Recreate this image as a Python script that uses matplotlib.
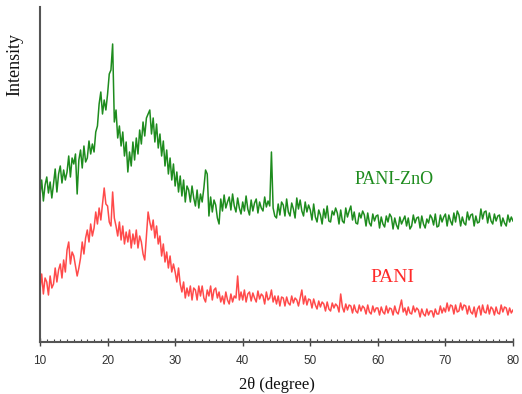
import numpy as np
import matplotlib
matplotlib.use("Agg")
import matplotlib.pyplot as plt
from matplotlib.ticker import MultipleLocator

# 2-theta grid: 10 to 80 degrees, step 0.25
two_theta_start = 10.0
two_theta_step = 0.25

pani_zno = [
    146, 162, 141, 157,  165, 149, 160, 144,  158, 173, 150, 168,  176, 159, 172, 162,
    170, 186, 165, 184,  178, 188, 148, 182,  192, 174, 196, 180,  184, 201, 188, 198,
    190, 210, 216, 238,  250, 228, 242, 232,  248, 268, 272, 298,  220, 232, 204, 216,
    196, 210, 186, 200,  170, 190, 176, 200,  182, 204, 188, 212,  198, 220, 206, 224,
    228, 232, 208, 224,  200, 218, 194, 208,  186, 201, 176, 192,  168, 184, 162, 178,
    156, 170, 150, 166,  146, 162, 140, 156,  152, 140, 156, 144,  136, 152, 134, 148,
    140, 154, 172, 168,  126, 145, 130, 142,  137, 124, 118, 143,  131, 147, 134, 140,
    145, 132, 148, 136,  130, 144, 134, 128,  140, 131, 146, 133,  127, 142, 131, 139,
    143, 129, 140, 134,  131, 145, 135, 141,  136, 190, 134, 126,  124, 138, 127, 140,
    137, 126, 143, 130,  126, 139, 133, 124,  144, 133, 142, 131,  126, 140, 130, 137,
    132, 122, 138, 125,  120, 132, 127, 118,  133, 124, 136, 121,  120, 131, 127, 134,
    129, 118, 132, 121,  119, 134, 125, 131,  136, 122, 130, 119,  118, 129, 124, 131,
    127, 116, 129, 119,  116, 128, 121, 126,  127, 114, 125, 118,  115, 126, 120, 128,
    125, 113, 124, 117,  113, 125, 118, 122,  126, 116, 124, 113,  116, 127, 119, 124,
    125, 114, 126, 118,  114, 123, 119, 127,  124, 117, 128, 115,  116, 127, 120, 125,
    128, 116, 127, 121,  117, 129, 120, 131,  127, 116, 125, 119,  117, 130, 122, 127,
    128, 116, 126, 119,  120, 133, 123, 130,  131, 119, 129, 121,  118, 128, 121, 126,
    127, 116, 124, 119,  116, 127, 120, 125,  121,
]

pani = [
    52, 68, 48, 64,  60, 47, 66, 54,  58, 74, 60, 72,  78, 64, 82, 70,
    92, 100, 78, 90,  86, 76, 66, 74,  84, 100, 88, 104,  112, 100, 118, 106,
    114, 130, 118, 134,  122, 138, 154, 138,  136, 120, 116, 150,  124, 116, 106, 120,
    102, 116, 98, 110,  100, 112, 94, 108,  98, 112, 94, 106,  100, 88, 82, 106,
    130, 120, 112, 122,  104, 116, 98, 106,  86, 98, 80, 90,  74, 86, 70, 78,
    70, 60, 74, 58,  50, 60, 44, 54,  46, 56, 42, 54,  52, 42, 56, 46,
    56, 44, 40, 52,  46, 56, 42, 52,  54, 44, 50, 40,  46, 38, 50, 42,
    38, 48, 40, 46,  44, 66, 42, 50,  42, 52, 40, 48,  50, 41, 49, 44,
    40, 51, 43, 48,  46, 38, 50, 42,  44, 52, 40, 46,  38, 46, 36, 45,
    44, 36, 45, 39,  37, 46, 39, 44,  42, 36, 44, 52,  38, 46, 37, 43,
    42, 34, 43, 37,  33, 41, 35, 40,  38, 31, 40, 33,  31, 39, 34, 38,
    36, 30, 48, 35,  30, 38, 32, 37,  36, 29, 37, 31,  29, 37, 31, 36,
    34, 28, 37, 30,  28, 36, 30, 34,  34, 27, 35, 30,  28, 36, 29, 34,
    33, 27, 36, 30,  28, 35, 42, 30,  34, 27, 35, 29,  28, 36, 30, 34,
    32, 25, 33, 28,  26, 33, 27, 31,  31, 25, 33, 28,  28, 36, 29, 34,
    30, 39, 31, 37,  36, 28, 37, 30,  31, 39, 32, 37,  36, 28, 36, 30,
    28, 35, 25, 33,  36, 27, 37, 30,  29, 37, 28, 35,  33, 27, 35, 29,
    28, 37, 30, 35,  34, 27, 34, 29,  32,
]

series_labels = ["PANI-ZnO", "PANI"]
xticks = [10, 20, 30, 40, 50, 60, 70, 80]

x1 = two_theta_start + two_theta_step * np.arange(len(pani_zno))
x2 = two_theta_start + two_theta_step * np.arange(len(pani))

fig = plt.figure(figsize=(5.22, 3.94), dpi=100)
ax = fig.add_axes([40 / 522, 52 / 394, 473 / 522, 335 / 394])

green = "#1e8c1e"
red = "#ff4a4a"
ax.plot(x1, pani_zno, color=green, lw=1.1)
ax.plot(x2, pani, color=red, lw=1.1)

ax.set_xlim(10, 80)
ax.set_ylim(0, 335)

ax.spines["top"].set_visible(False)
ax.spines["right"].set_visible(False)
for s in ("left", "bottom"):
    ax.spines[s].set_color("#555555")
    ax.spines[s].set_linewidth(1.5)

ax.set_yticks([])
ax.set_xticks(xticks)
ax.xaxis.set_minor_locator(MultipleLocator(1))
ax.tick_params(axis="x", which="major", direction="inout", length=6, width=1.0,
               color="#444444", pad=6, labelsize=8.5, labelcolor="#333333")
ax.tick_params(axis="x", which="minor", direction="in", length=2.5, width=0.8,
               color="#444444")
for lab in ax.get_xticklabels():
    lab.set_family("Liberation Sans")

ax.text(62.4, 162, series_labels[0], color=green, fontsize=13,
        family="Liberation Serif", ha="center", va="center")
ax.text(62.1, 64, series_labels[1], color="#ff2a2a", fontsize=14,
        family="Liberation Serif", ha="center", va="center")

fig.text(15 / 522, 1 - 65 / 394, "Intensity", rotation=90, fontsize=13,
         family="Liberation Serif", ha="center", va="center", color="#111111")
fig.text(277 / 522, 1 - 385 / 394, "2\u03b8 (degree)", fontsize=12,
         family="Liberation Serif", ha="center", va="center", color="#111111")

fig.savefig("out.png", dpi=100)
